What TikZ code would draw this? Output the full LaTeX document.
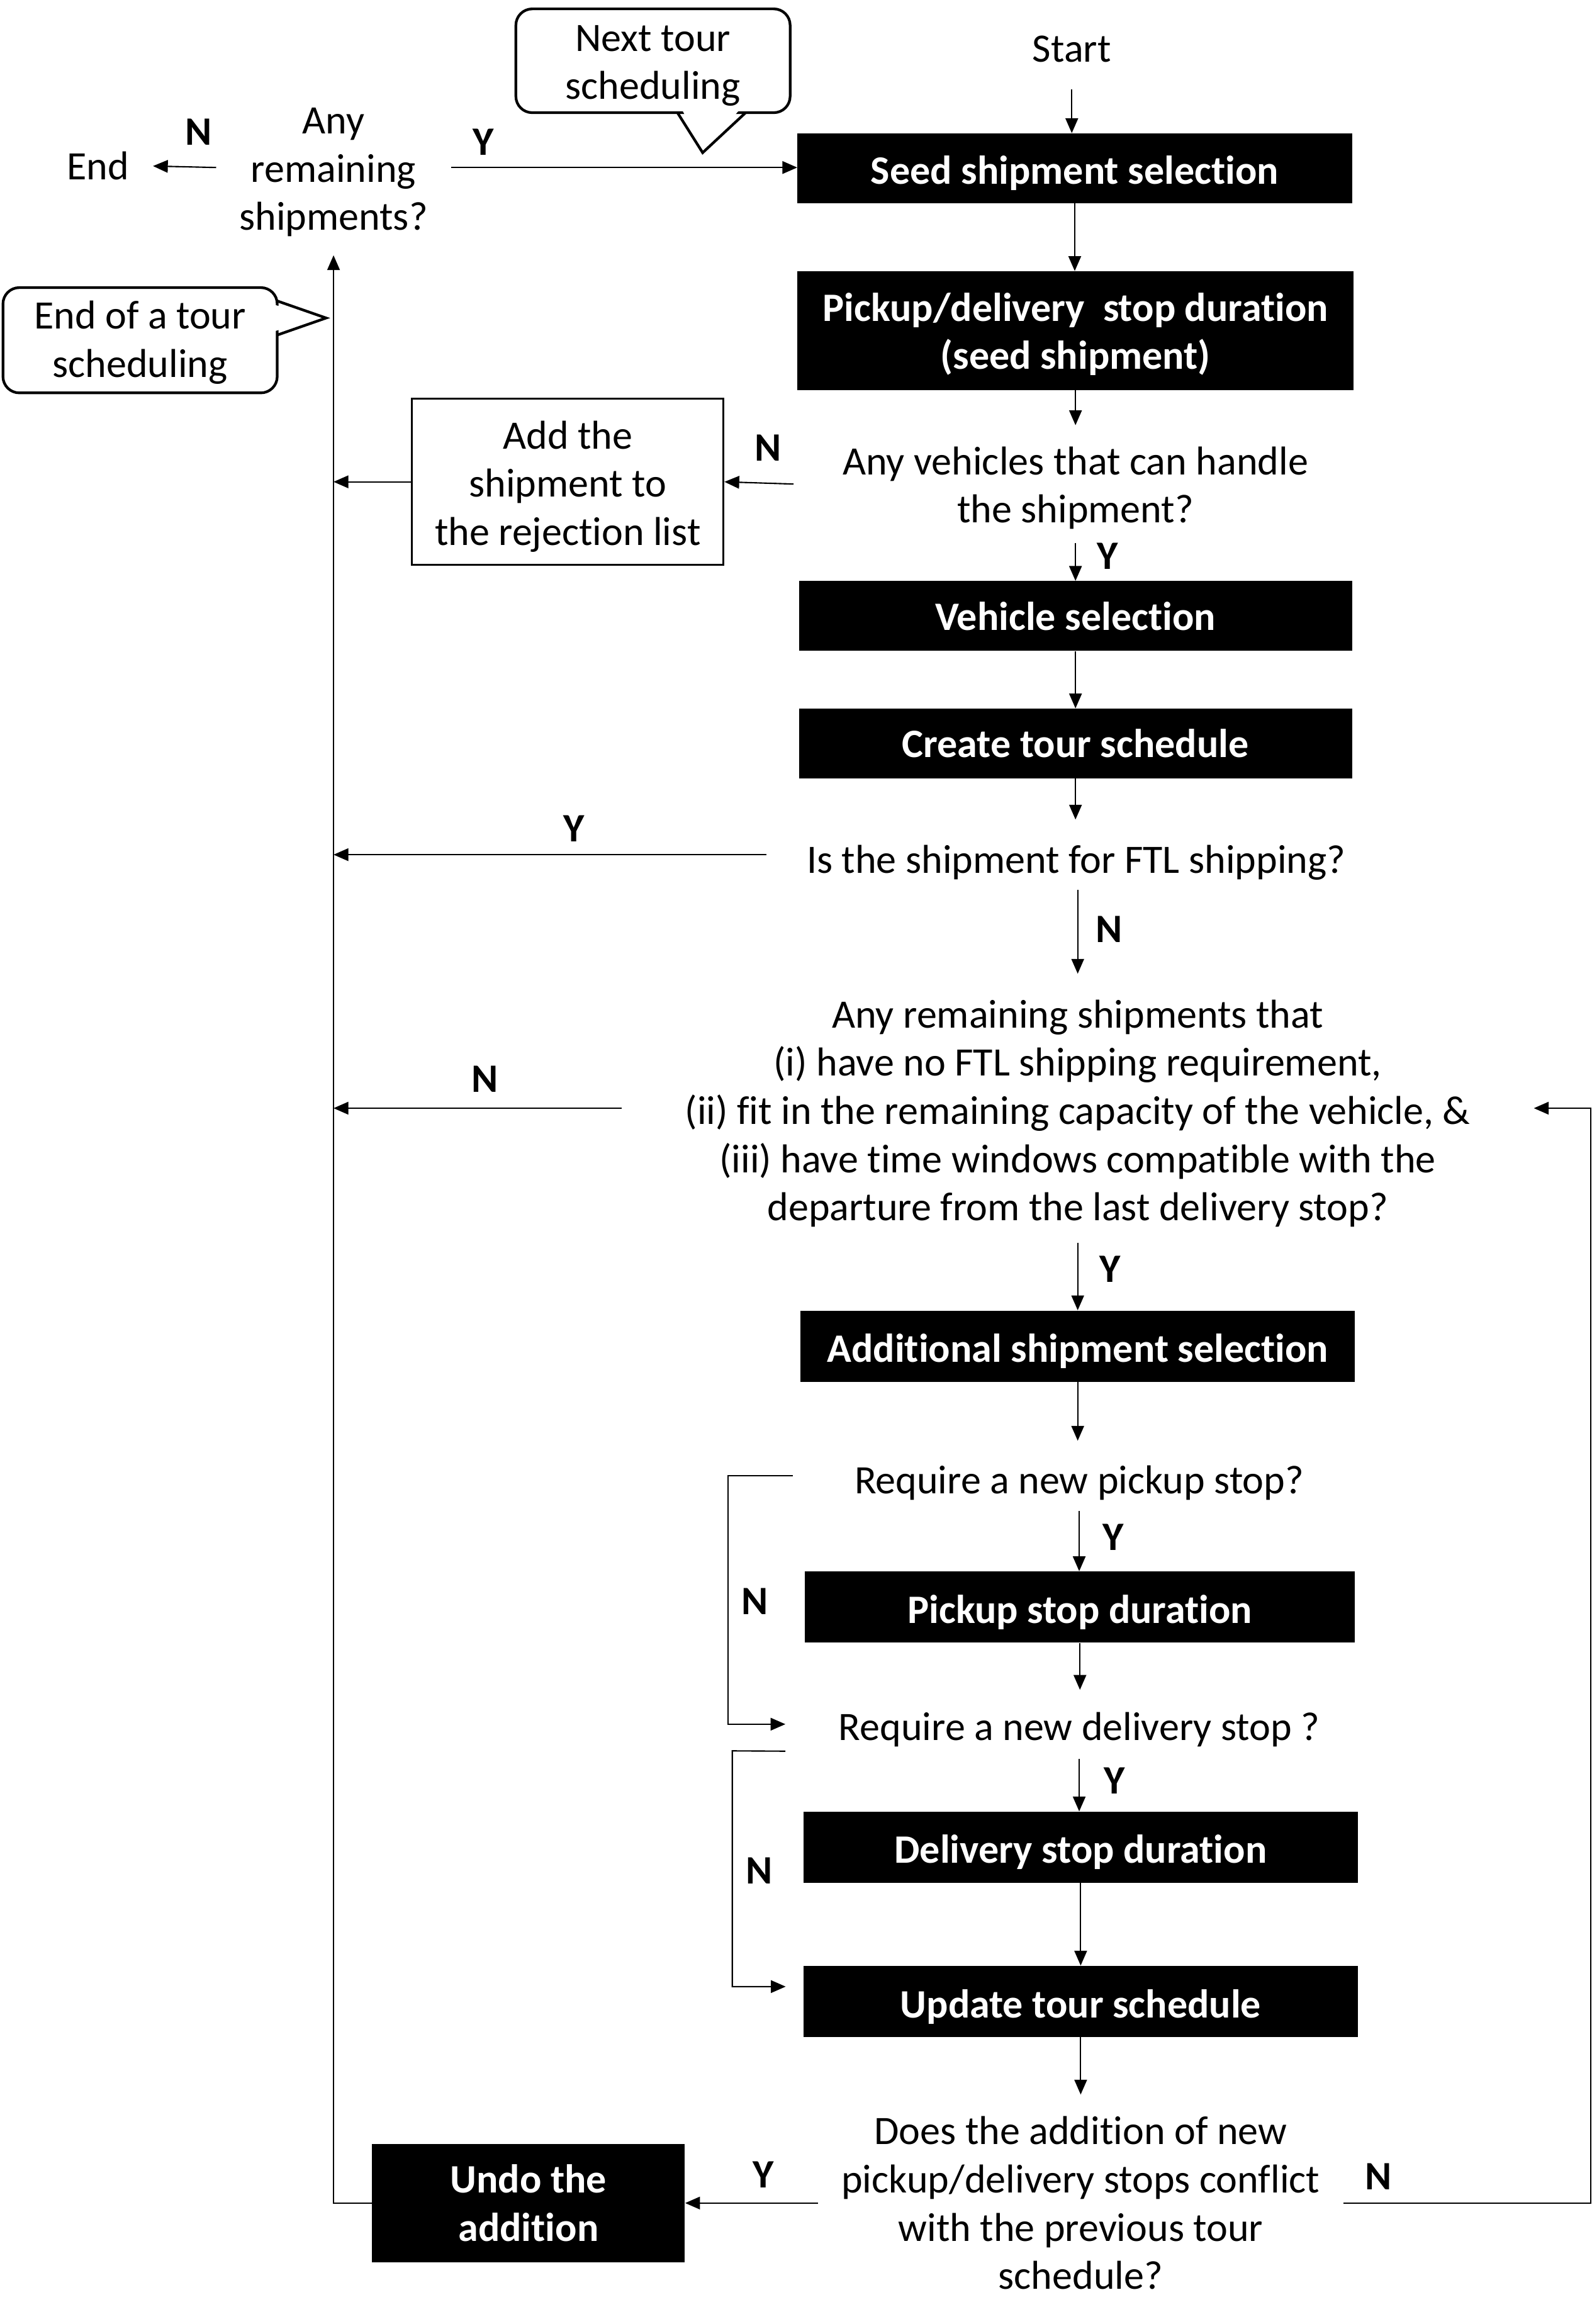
\documentclass[tikz,border=0pt]{standalone}
\usepackage{fontspec}
\setmainfont{Carlito}[Ligatures=NoCommon]
\usetikzlibrary{arrows.meta,calc}
\newcommand\myfs{\fontsize{27.2pt}{32.5pt}\selectfont}
\newcommand\myup[1]{\rule{0pt}{#1}}
\begin{document}
\begin{tikzpicture}[x=1pt,y=-1pt,
  every node/.style={font=\myfs, inner sep=0pt},
  lower/.style={execute at begin node={\rule{0pt}{#1}}},
  lower/.default=26pt,
  blk/.style={fill=black, text=white, font=\myfs\bfseries, align=center},
  dec/.style={align=center},
  lbl/.style={font=\myfs\bfseries},
  arr/.style={-{Triangle[length=10pt,width=8.5pt]}, line width=0.9pt},
  ln/.style={line width=0.9pt},
  callout/.style={draw, line width=1.8pt, rounded corners=11pt, align=center}]
\useasboundingbox (0,0) rectangle (1073.6,1567.6);

% main column
\node (start) at (723,33) [minimum height=54pt] {Start};
\node[blk, lower, minimum width=374pt, minimum height=47pt] (seed) at (725,113.5) {Seed shipment selection};
\node[blk, minimum width=375pt, minimum height=80pt] (pd) at (725.5,223) {\myup{24pt}Pickup/delivery~ stop duration\\(seed shipment)};
\node[dec, minimum width=380pt, minimum height=79pt] (veh) at (725.5,326.5) {\myup{24pt}Any vehicles that can handle\\the shipment?};
\node[draw, line width=1.3pt, align=center, minimum width=210pt, minimum height=112pt] (rej) at (383,325) {\myup{25pt}Add the\\shipment to\\the rejection list};
\node[blk, minimum width=373pt, minimum height=47pt] (vsel) at (725.5,415.5) {Vehicle selection};
\node[blk, minimum width=373pt, minimum height=47pt] (cts) at (725.5,501.5) {Create tour schedule};
\node[dec, lower=30pt, minimum width=418pt, minimum height=47pt] (ftl) at (726,576.5) {Is the shipment for FTL shipping?};
\node[dec, minimum width=615pt, minimum height=181pt] (big) at (727,747.5) {\myup{26pt}Any remaining shipments that\\(i) have no FTL shipping requirement,\\(ii) fit in the remaining capacity of the vehicle, \&\\(iii) have time windows compatible with the\\departure from the last delivery stop?};
\node[blk, lower, minimum width=374pt, minimum height=48pt] (add) at (727,908) {Additional shipment selection};
\node[dec, lower=28pt, minimum width=386pt, minimum height=47pt] (rp) at (728,995.5) {Require a new pickup stop?};
\node[blk, lower, minimum width=371pt, minimum height=48pt] (psd) at (728.5,1084) {Pickup stop duration};
\node[dec, lower, minimum width=396pt, minimum height=46pt] (rd) at (728,1163) {Require a new delivery stop ?};
\node[blk, lower, minimum width=374pt, minimum height=48pt] (dsd) at (729,1246) {Delivery stop duration};
\node[blk, lower, minimum width=374pt, minimum height=48pt] (uts) at (729,1350) {Update tour schedule};
\node[dec, minimum width=354pt, minimum height=146pt] (fin) at (729,1486) {Does the addition of new\\pickup/delivery stops conflict\\with the previous tour\\schedule?};
\node[blk, minimum width=211pt, minimum height=80pt] (undo) at (356.5,1486) {Undo the\\addition};
\node[dec, minimum width=158pt, minimum height=118pt] (rem) at (225,113) {\myup{24pt}Any\\remaining\\shipments?};
\node[minimum width=74pt] (end) at (66,112) {End};

% callouts
\node[callout, minimum width=185pt, minimum height=70pt] (cb1) at (440.5,41) {\myup{24pt}Next tour\\scheduling};
\fill[white] (459,72) -- (474,100) -- (501,72) -- cycle;
\draw[line width=1.8pt] (457,76) -- (474,103) -- (503,76);
\node[callout, minimum width=185pt, minimum height=71pt] (cb2) at (94.5,229.5) {\myup{22pt}End of a tour\\scheduling};
\fill[white] (183,205) -- (217,214.5) -- (183,224) -- cycle;
\draw[line width=1.8pt] (187,203) -- (220,214.5) -- (187,226);

% coordinates
\coordinate (pN) at (491,995.5);
\coordinate (dN) at (494,1181);
\coordinate (dE) at (530,1340);
\coordinate (R) at (1073,1486);

% connectors
\draw[arr] (start.south) -- (start.south |- seed.north);
\draw[arr] (seed.south) -- (seed.south |- pd.north);
\draw[arr] (pd.south) -- (pd.south |- veh.north);
\draw[arr] (veh.west) -- (rej.east);
\draw[arr] (rej.west) -- (rej.west -| rem.south);
\draw[arr] (veh.south) -- (veh.south |- vsel.north);
\draw[arr] (vsel.south) -- (vsel.south |- cts.north);
\draw[arr] (cts.south) -- (cts.south |- ftl.north);
\draw[arr] (ftl.west) -- (ftl.west -| rem.south);
\draw[arr] (big.north |- ftl.south) -- (big.north);
\draw[arr] (big.west) -- (big.west -| rem.south);
\draw[arr] (big.south) -- (big.south |- add.north);
\draw[arr] (add.south) -- (add.south |- rp.north);
\draw[arr] (rp.west) -- (pN) |- (rd.west);
\draw[arr] (rp.south) -- (rp.south |- psd.north);
\draw[arr] (psd.south) -- (psd.south |- rd.north);
\draw[arr] ([yshift=5pt]rd.south west) -- (dN) |- (dE);
\draw[arr] (rd.south) -- (rd.south |- dsd.north);
\draw[arr] (dsd.south) -- (dsd.south |- uts.north);
\draw[arr] (uts.south) -- (uts.south |- fin.north);
\draw[arr] (fin.west) -- (undo.east);
\draw[arr] (undo.west) -| (rem.south);
\draw[arr] (fin.east) -- (R) |- (big.east);
\draw[arr] (rem.east) -- (rem.east -| seed.west);
\draw[arr] (rem.west) -- (end.east);

% labels
\node[lbl] (l1) at (134,89) {N};
\node[lbl] (l2) at (326,96) {Y};
\node[lbl] (l3) at (518,302) {N};
\node[lbl] (l4) at (747,375) {Y};
\node[lbl] (l5) at (387,559) {Y};
\node[lbl] (l6) at (748,627) {N};
\node[lbl] (l7) at (327,728) {N};
\node[lbl] (l8) at (749,856) {Y};
\node[lbl] (l9) at (751,1037) {Y};
\node[lbl] (l10) at (509,1080) {N};
\node[lbl] (l11) at (752,1201) {Y};
\node[lbl] (l12) at (512,1262) {N};
\node[lbl] (l13) at (515,1467) {Y};
\node[lbl] (l14) at (930,1468) {N};
\end{tikzpicture}
\end{document}
